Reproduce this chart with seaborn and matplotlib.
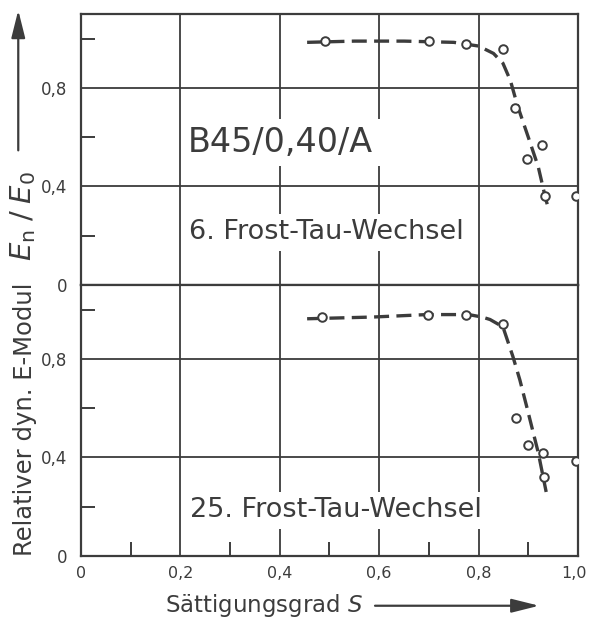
#!/usr/bin/env python3
import numpy as np
import pandas as pd
import matplotlib
matplotlib.use("Agg")
import matplotlib.pyplot as plt
import matplotlib.transforms as mtransforms
import seaborn as sns

# measured points, 6. Frost-Tau-Wechsel
s_pts_6 = [0.49, 0.70, 0.775, 0.85, 0.873, 0.898, 0.928, 0.934, 0.996]
e_pts_6 = [0.99, 0.99, 0.98, 0.96, 0.72, 0.51, 0.57, 0.36, 0.36]
# dashed fit curve, 6. FTW
s_fit_6 = [0.455, 0.55, 0.65, 0.75, 0.80, 0.83, 0.849, 0.864, 0.878, 0.90, 0.92, 0.935, 0.942]
e_fit_6 = [0.985, 0.99, 0.99, 0.985, 0.97, 0.94, 0.90, 0.83, 0.73, 0.60, 0.48, 0.35, 0.30]

# measured points, 25. Frost-Tau-Wechsel
s_pts_25 = [0.485, 0.698, 0.775, 0.849, 0.875, 0.899, 0.93, 0.932, 0.996]
e_pts_25 = [0.97, 0.98, 0.98, 0.94, 0.56, 0.45, 0.42, 0.32, 0.385]
# dashed fit curve, 25. FTW
s_fit_25 = [0.455, 0.587, 0.696, 0.78, 0.807, 0.823, 0.849, 0.869, 0.883, 0.897, 0.92, 0.936]
e_fit_25 = [0.963, 0.97, 0.98, 0.98, 0.97, 0.96, 0.93, 0.81, 0.715, 0.605, 0.42, 0.26]

x_ticks = [0, 0.2, 0.4, 0.6, 0.8, 1.0]
x_labels = ["0", "0,2", "0,4", "0,6", "0,8", "1,0"]
y_ticks = [0, 0.4, 0.8]
y_labels = ["0", "0,4", "0,8"]

INK = "#3c3c3c"

sns.set_theme(style="white")
plt.rcParams["font.family"] = ["DejaVu Sans"]
plt.rcParams["text.color"] = INK
plt.rcParams["axes.edgecolor"] = INK
plt.rcParams["xtick.color"] = INK
plt.rcParams["ytick.color"] = INK

fig, (ax1, ax2) = plt.subplots(2, 1, figsize=(5.89, 6.2), dpi=100, sharex=True)
fig.subplots_adjust(left=0.1375, right=0.9813, top=0.9774, bottom=0.1032, hspace=0)

panels = [
    (ax1, s_pts_6, e_pts_6, s_fit_6, e_fit_6),
    (ax2, s_pts_25, e_pts_25, s_fit_25, e_fit_25),
]
for ax, sp, ep, sf, ef in panels:
    ax.set_xlim(0, 1.0)
    ax.set_ylim(0, 1.1)
    ax.set_yticks(y_ticks)
    ax.set_yticklabels(y_labels, fontsize=12)
    ax.set_yticks([0.2, 0.6, 1.0], minor=True)
    ax.tick_params(axis="y", which="major", length=0, pad=10)
    ax.tick_params(axis="y", which="minor", direction="in", length=10, width=1.4, left=True)
    ax.grid(True, which="major", color=INK, linewidth=1.3)
    for sp_ in ax.spines.values():
        sp_.set_linewidth(1.6)
    fit = pd.DataFrame({"S": sf, "E": ef})
    sns.lineplot(data=fit, x="S", y="E", ax=ax, color=INK, linewidth=2.4,
                 dashes=False, linestyle=(0, (4.5, 2.2)), sort=False, zorder=3)
    pts = pd.DataFrame({"S": sp, "E": ep})
    sns.scatterplot(data=pts, x="S", y="E", ax=ax, marker="o", s=38,
                    facecolor="white", edgecolor=INK, linewidth=1.4, zorder=4)
    ax.set_xlabel("")
    ax.set_ylabel("")

ax2.set_xticks(x_ticks)
ax2.set_xticklabels(x_labels, fontsize=11.5)
ax2.set_xticks([0.1, 0.3, 0.5, 0.7, 0.9], minor=True)
ax2.tick_params(axis="x", which="major", length=0, pad=7)
ax2.tick_params(axis="x", which="minor", direction="in", length=10, width=1.4, bottom=True)
ax1.tick_params(axis="x", which="both", length=0, labelbottom=False)
# nudge the last label ("1,0") left so it stays inside the figure
last = ax2.get_xticklabels()[-1]
last.set_transform(last.get_transform() + mtransforms.ScaledTranslation(-3 / 72, 0, fig.dpi_scale_trans))

box = dict(boxstyle="square,pad=0.2", facecolor="white", edgecolor="none")
ax1.text(0.215, 0.578, "B45/0,40/A", fontsize=24, va="center", ha="left", bbox=box, zorder=2.5)
ax1.text(0.217, 0.214, "6. Frost-Tau-Wechsel", fontsize=19.5, va="center", ha="left", bbox=box, zorder=2.5)
ax2.text(0.219, 0.186, "25. Frost-Tau-Wechsel", fontsize=19.5, va="center", ha="left", bbox=box, zorder=2.5)

# axis titles with arrows
arrow = dict(arrowstyle="-|>,head_length=1.4,head_width=0.35", color=INK, lw=1.6)
fig.text(0.28, 0.013, r"Sättigungsgrad $S$", fontsize=16.5, ha="left", va="baseline")
ax2.annotate("", xy=(0.92, 0.023), xytext=(0.632, 0.023), xycoords="figure fraction",
             textcoords="figure fraction", arrowprops=arrow, annotation_clip=False)
fig.text(0.042, 0.1032, "Relativer dyn. E-Modul", fontsize=17.5,
         rotation=90, ha="center", va="bottom")
fig.text(0.040, 0.652, r"$E_{\mathrm{n}}\;/\;E_0$", fontsize=21,
         rotation=90, ha="center", va="center")
ax2.annotate("", xy=(0.031, 0.988), xytext=(0.031, 0.753), xycoords="figure fraction",
             textcoords="figure fraction", arrowprops=arrow, annotation_clip=False)

fig.savefig("out.png", dpi=100)
